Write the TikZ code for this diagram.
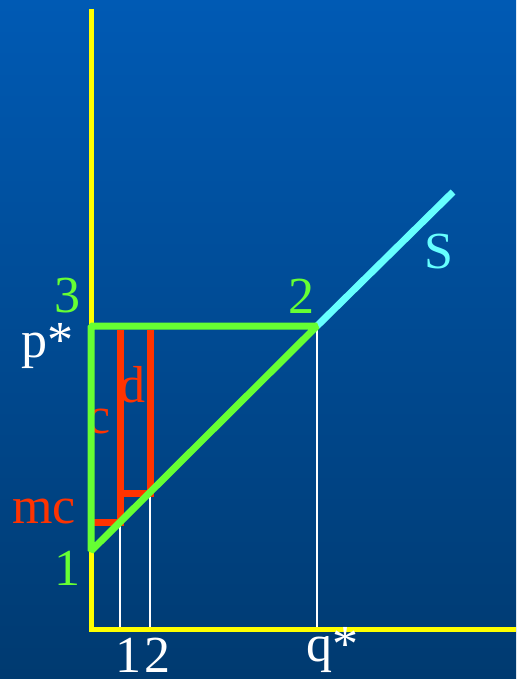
\documentclass[tikz,border=0pt]{standalone}
\usepackage{fontspec}
\setmainfont{Liberation Serif}
\usepackage{tikz}
\usetikzlibrary{positioning}
\definecolor{bgtop}{RGB}{0,90,180}
\definecolor{bgbot}{RGB}{0,58,112}
\definecolor{tyellow}{RGB}{255,255,0}
\definecolor{tgreen}{RGB}{102,255,51}
\definecolor{tred}{RGB}{255,51,0}
\definecolor{tcyan}{RGB}{102,255,255}

\begin{document}
\begin{tikzpicture}[
      x=1pt, y=-1pt,
      every node/.style={font=\fontsize{52}{60}\selectfont, inner sep=0pt, anchor=base},
      axisln/.style={draw=tyellow, line width=5pt},
      triln/.style={draw=tgreen, line width=7pt, line join=bevel},
      barln/.style={draw=tred, line width=7pt},
      guideln/.style={draw=white, line width=1.5pt},
      supln/.style={draw=tcyan, line width=7pt},
  ]
    \shade[top color=bgtop, bottom color=bgbot] (0,0) rectangle (516,679);
    \useasboundingbox (0,0) rectangle (516,679);

    % axes
    \coordinate (o) at (91,629);
    \coordinate (ytop) at (91,9);
    \coordinate (xend) at (516,629);

    % triangle corners
    \coordinate (c3) at (91,326);
    \coordinate (c2) at (317,326);
    \coordinate (c1) at (91,551);
    \coordinate (send) at (453,192);

    % points on the supply line
    \coordinate (m1) at (120,522);
    \coordinate (m2) at (150,493);
    \coordinate (mc) at (91,522);
    \coordinate (t1) at (120,330);
    \coordinate (t2) at (150,330);

    % feet on the q axis
    \coordinate (f1) at (120,629);
    \coordinate (f2) at (150,629);
    \coordinate (fq) at (317,629);

    \draw[guideln] (m1) -- (f1);
    \draw[guideln] (m2) -- (f2);
    \draw[guideln] (c2) -- (fq);

    \draw[axisln] (ytop) -- (o) -- (xend);

    \draw[barln] (mc) -- (m1) -- (t1);
    \draw[barln] (m1 |- m2) -- (m2) -- (t2);
    \node[tred] (lblc) at (99,433) {c};

    \draw[supln] (c2) -- (send);
    \draw[triln] (c1) -- (c3) -- (c2) -- cycle;

    \node[tgreen] (lbl3) at (67,312) {3};
    \node[white] (lblp) at (47,357) {p*};
    \node[tgreen] (lbl2) at (301,313) {2};
    \node[tcyan] (lbls) at (439,268) {S};
    \node[tred] (lbld) at (132,402) {d};
    \node[tred] (lblmc) at (44,523) {mc};
    \node[tgreen] (lbl1) at (67,585) {1};
    \node[white] (lblq1) at (128,672) {1};
    \node[white] (lblq2) at (157,672) {2};
    \node[white] (lblq) at (332,661) {q*};
  \end{tikzpicture}
\end{document}
